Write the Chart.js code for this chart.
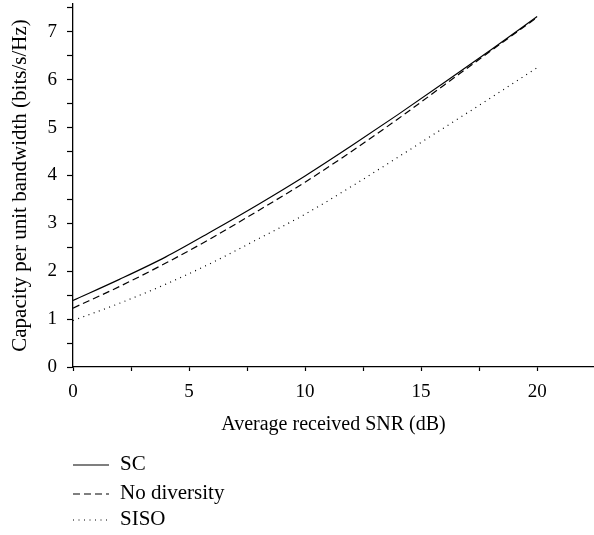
<!DOCTYPE html>
<html>
<head>
<meta charset="utf-8">
<script src="https://cdn.jsdelivr.net/npm/chart.js@4"></script>
<style>
  html, body { margin: 0; padding: 0; background: #fff; }
  #wrap { width: 594px; height: 535px; }
</style>
</head>
<body>
<div id="wrap"><canvas id="chart"></canvas></div>
<script>
'use strict'

// SNR (dB)
const snr = [0, 2, 4, 6, 8, 10, 12, 14, 16, 18, 20];
// 용량 곡선 (bits/s/Hz)
const scValues = [1.39, 1.83, 2.30, 2.84, 3.40, 3.99, 4.62, 5.27, 5.94, 6.62, 7.32];
const noDivValues = [1.23, 1.68, 2.17, 2.70, 3.27, 3.86, 4.50, 5.18, 5.89, 6.60, 7.30];
const sisoValues = [0.97, 1.33, 1.73, 2.18, 2.68, 3.19, 3.77, 4.38, 5.00, 5.62, 6.25];
const seriesLabels = ['SC', 'No diversity', 'SISO'];

const FONT = '"Liberation Serif", "Times New Roman", serif';

function toPoints(values){
    return snr.map((x, i) => ({ x: x, y: values[i] }));
}

function makeSet(label, values, dash){
    return {
        label: label,
        data: toPoints(values),
        borderColor: '#000',
        borderWidth: 1.2,
        borderDash: dash,
        pointRadius: 0,
        fill: false,
        cubicInterpolationMode: 'monotone'
    };
}

// 세로 범례 (차트 아래)
const legendBelow = {
    id: 'legendBelow',
    afterDraw(chart){
        const ctx = chart.ctx;
        const left = chart.chartArea.left;
        const rows = [chart.height - 70, chart.height - 41, chart.height - 15];
        ctx.save();
        chart.data.datasets.forEach((ds, i) => {
            const y = rows[i];
            ctx.beginPath();
            ctx.setLineDash(ds.borderDash || []);
            ctx.lineWidth = 1.2;
            ctx.strokeStyle = '#000';
            ctx.moveTo(left, y);
            ctx.lineTo(left + 36, y);
            ctx.stroke();
            ctx.setLineDash([]);
            ctx.fillStyle = '#000';
            ctx.font = '21px ' + FONT;
            ctx.textBaseline = 'middle';
            ctx.fillText(ds.label, left + 47, y - 1);
        });
        ctx.restore();
    }
};

new Chart(document.getElementById('chart'), {
    type: 'line',
    data: {
        datasets: [
            makeSet(seriesLabels[0], scValues, []),
            makeSet(seriesLabels[1], noDivValues, [7, 4]),
            makeSet(seriesLabels[2], sisoValues, [1, 4.5])
        ]
    },
    options: {
        responsive: true,
        maintainAspectRatio: false,
        animation: false,
        layout: { padding: { top: 4, right: 0, bottom: 98, left: 0 } },
        plugins: {
            legend: { display: false },
            tooltip: { enabled: false }
        },
        scales: {
            x: {
                type: 'linear',
                min: 0,
                max: 22.45,
                afterFit: (scale) => {
                    scale.height = 70;
                    scale.paddingLeft = 0;
                    scale.paddingRight = 0;
                },
                border: { color: '#000', width: 1.3 },
                grid: { drawOnChartArea: false, tickLength: 4, tickColor: '#000', tickWidth: 1.2 },
                ticks: {
                    stepSize: 2.5,
                    includeBounds: false,
                    autoSkip: false,
                    maxRotation: 0,
                    padding: 10,
                    color: '#000',
                    font: { family: FONT, size: 19 },
                    callback: (v) => (v % 5 === 0 ? String(v) : '')
                },
                title: {
                    display: true,
                    text: 'Average received SNR (dB)',
                    color: '#000',
                    font: { family: FONT, size: 20 },
                    padding: { top: 0, bottom: 0 }
                }
            },
            y: {
                min: 0,
                max: 7.58,
                afterFit: (scale) => {
                    scale.width = 73;
                    scale.paddingTop = 0;
                    scale.paddingBottom = 0;
                },
                border: { color: '#000', width: 1.3 },
                grid: { drawOnChartArea: false, tickLength: 6, tickColor: '#000', tickWidth: 1.2 },
                ticks: {
                    stepSize: 0.5,
                    includeBounds: false,
                    autoSkip: false,
                    padding: 10,
                    color: '#000',
                    font: { family: FONT, size: 19 },
                    callback: (v) => (v % 1 === 0 ? String(v) : '')
                },
                title: {
                    display: true,
                    text: 'Capacity per unit bandwidth (bits/s/Hz)',
                    color: '#000',
                    font: { family: FONT, size: 21 },
                    padding: { top: 8, bottom: 0 }
                }
            }
        }
    },
    plugins: [legendBelow]
});
</script>
</body>
</html>
